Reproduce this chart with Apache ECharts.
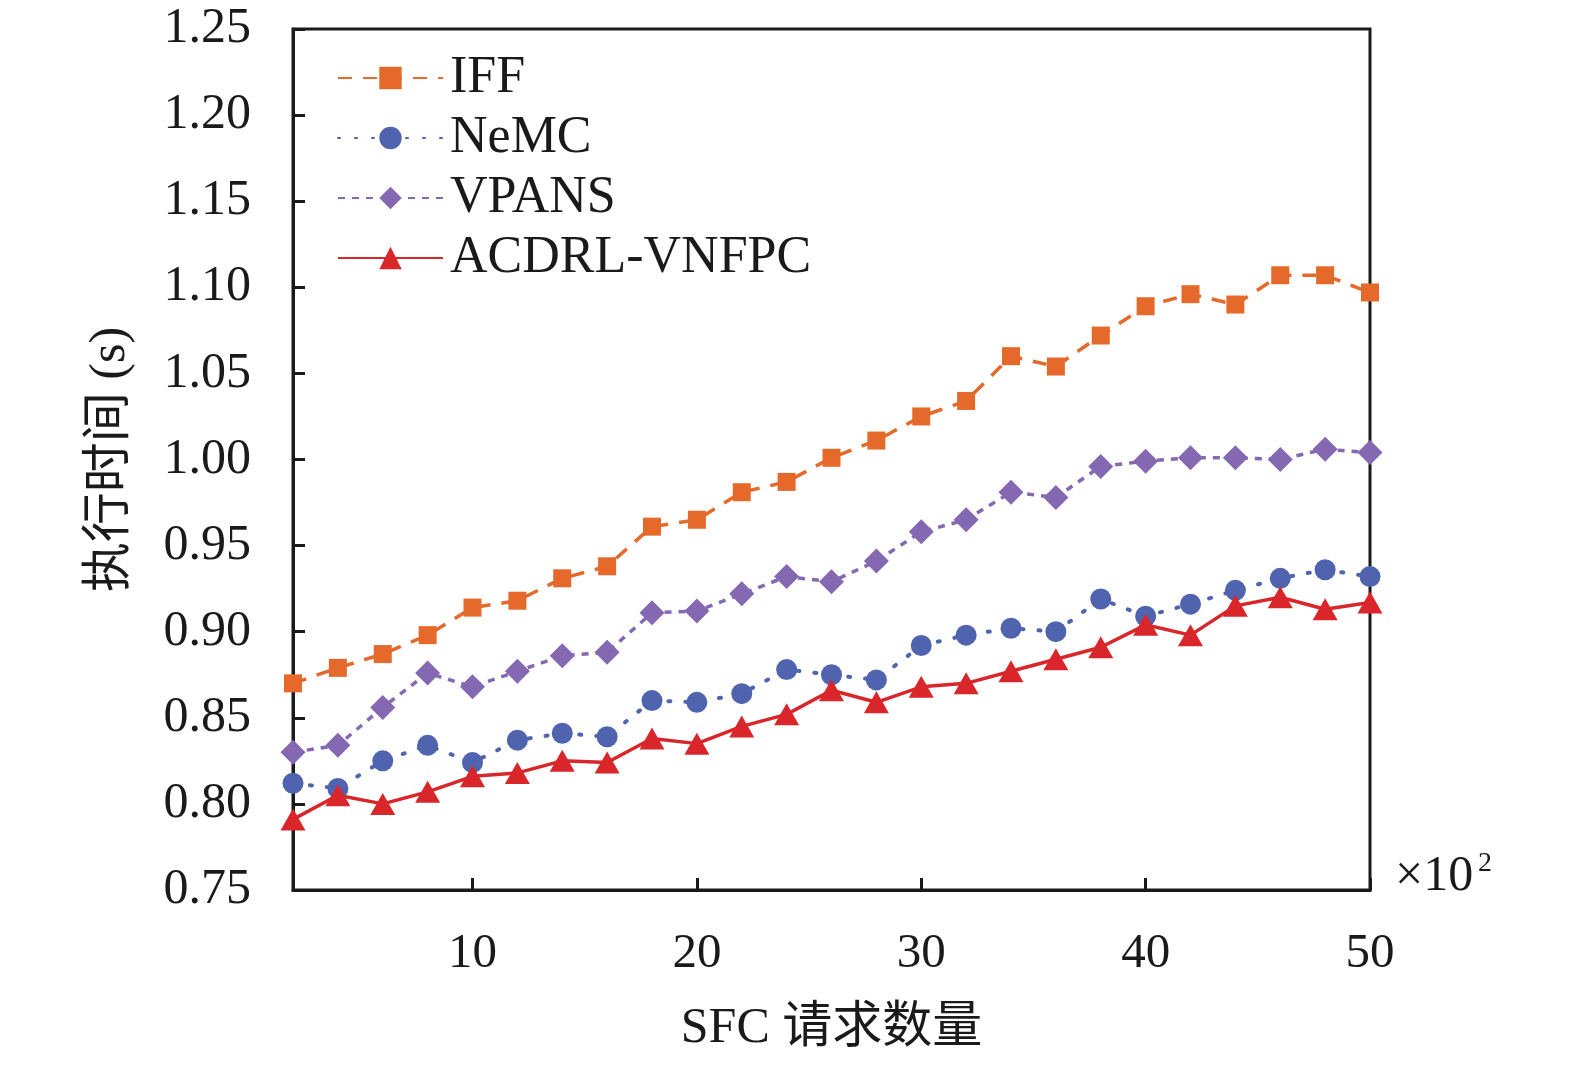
<!DOCTYPE html>
<html>
<head>
<meta charset="utf-8">
<script src="https://cdn.jsdelivr.net/npm/echarts@6/dist/echarts.min.js"></script>
<style>
  html, body { margin: 0; padding: 0; background: #fff; }
  #main { width: 1575px; height: 1068px; }
</style>
</head>
<body>
<div id="main"></div>
<script>
// x: SFC requests (x10^2)
const requests = [2, 4, 6, 8, 10, 12, 14, 16, 18, 20, 22, 24, 26, 28, 30, 32, 34, 36, 38, 40, 42, 44, 46, 48, 50];

const iff = [0.870, 0.879, 0.887, 0.898, 0.914, 0.918, 0.931, 0.938, 0.961, 0.965, 0.981, 0.987, 1.001,
    1.011, 1.025, 1.034, 1.060, 1.054, 1.072, 1.089, 1.096, 1.090, 1.107, 1.107, 1.097];
const nemc = [0.812, 0.809, 0.825, 0.834, 0.824, 0.837, 0.841, 0.839, 0.860, 0.859, 0.864, 0.878, 0.875,
    0.872, 0.892, 0.898, 0.902, 0.900, 0.919, 0.909, 0.916, 0.924, 0.931, 0.936, 0.932];
const vpans = [0.830, 0.834, 0.856, 0.876, 0.868, 0.877, 0.886, 0.888, 0.911, 0.912, 0.922, 0.932, 0.929,
    0.941, 0.958, 0.965, 0.981, 0.978, 0.996, 0.999, 1.001, 1.001, 1.000, 1.006, 1.004];
const acdrl = [0.791, 0.805, 0.800, 0.807, 0.816, 0.818, 0.825, 0.824, 0.838, 0.835, 0.845, 0.852, 0.866,
    0.859, 0.868, 0.870, 0.877, 0.884, 0.891, 0.904, 0.898, 0.915, 0.920, 0.913, 0.917];

const xTicks = [10, 20, 30, 40, 50];

const font = '"Liberation Serif", "Times New Roman", "Noto Sans CJK SC", serif';
const ink = '#1a1a1a';

const pair = (ys) => requests.map((x, i) => [x, ys[i]]);

const chart = echarts.init(document.getElementById('main'));

const option = {
    backgroundColor: '#fff',
    animation: false,
    grid: {
        left: 293,
        right: 205,
        top: 29,
        bottom: 178,
        show: true,
        borderColor: ink,
        borderWidth: 3,
        containLabel: false
    },
    legend: {
        left: 332,
        top: 47,
        orient: 'vertical',
        itemWidth: 105,
        itemHeight: 28,
        itemGap: 8,
        textStyle: { fontFamily: font, fontSize: 52, lineHeight: 52, color: ink, padding: [0, 0, 0, 2] },
        data: ['IFF', 'NeMC', 'VPANS', 'ACDRL-VNFPC']
    },
    xAxis: {
        type: 'value',
        min: 2,
        max: 50,
        name: 'SFC 请求数量',
        nameLocation: 'middle',
        nameGap: 114,
        nameTextStyle: { fontFamily: font, fontSize: 50, color: ink },
        axisLine: { lineStyle: { color: ink, width: 3 } },
        axisTick: { inside: true, length: 12, lineStyle: { color: ink, width: 3 }, customValues: xTicks },
        axisLabel: { fontFamily: font, fontSize: 49, color: ink, margin: 40, customValues: xTicks },
        splitLine: { show: false }
    },
    yAxis: {
        type: 'value',
        min: 0.75,
        max: 1.25,
        interval: 0.05,
        name: '执行时间 (s)',
        nameLocation: 'middle',
        nameGap: 157,
        nameRotate: 90,
        nameTextStyle: { fontFamily: font, fontSize: 50, color: ink },
        axisLine: { lineStyle: { color: ink, width: 3 } },
        axisTick: { inside: true, length: 12, lineStyle: { color: ink, width: 3 } },
        axisLabel: {
            fontFamily: font, fontSize: 50, color: ink, margin: 42,
            formatter: (v) => v.toFixed(2)
        },
        splitLine: { show: false }
    },
    graphic: [
        {
            type: 'text',
            left: 1395,
            top: 852,
            style: { text: '×10', fontFamily: font, fontSize: 50, fill: ink }
        },
        {
            type: 'text',
            left: 1478,
            top: 850,
            style: { text: '2', fontFamily: font, fontSize: 28, fill: ink }
        }
    ],
    series: [
        {
            name: 'IFF',
            type: 'line',
            data: pair(iff),
            symbol: 'rect',
            symbolSize: 18,
            itemStyle: { color: '#E4692A' },
            lineStyle: { color: '#E4692A', width: 3.5, type: [14, 11] }
        },
        {
            name: 'NeMC',
            type: 'line',
            data: pair(nemc),
            symbol: 'circle',
            symbolSize: 21,
            itemStyle: { color: '#4F63AE' },
            lineStyle: { color: '#4F63AE', width: 4, type: [2, 15], cap: 'round' }
        },
        {
            name: 'VPANS',
            type: 'line',
            data: pair(vpans),
            symbol: 'diamond',
            symbolSize: 25,
            itemStyle: { color: '#8468B1' },
            lineStyle: { color: '#8468B1', width: 3.5, type: [7, 7] }
        },
        {
            name: 'ACDRL-VNFPC',
            type: 'line',
            data: pair(acdrl),
            symbol: 'triangle',
            symbolSize: [25, 22],
            itemStyle: { color: '#D9262B' },
            lineStyle: { color: '#D9262B', width: 3.5 }
        }
    ]
};

chart.setOption(option);
</script>
</body>
</html>
